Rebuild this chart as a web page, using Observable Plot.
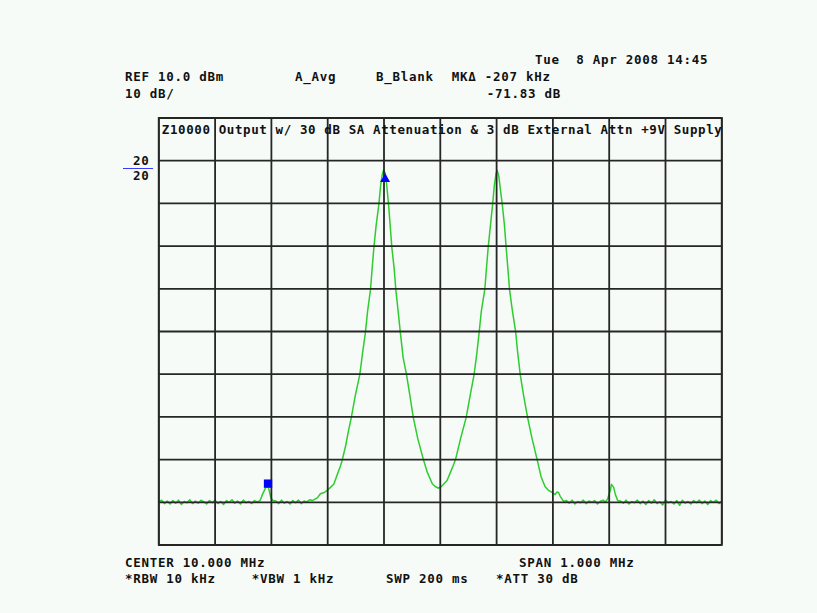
<!DOCTYPE html>
<html>
<head>
<meta charset="utf-8">
<script src="https://cdn.jsdelivr.net/npm/d3@7"></script>
<script src="https://cdn.jsdelivr.net/npm/@observablehq/plot@0.6"></script>
<style>
  html, body { margin: 0; padding: 0; background: #f6fbf8; }
  #wrap { position: relative; width: 817px; height: 613px; overflow: hidden; background: #f6fbf8; }
  #wrap svg { position: absolute; left: 0; top: 0; }
  .t { position: absolute; font-family: "DejaVu Sans Mono", monospace; font-weight: bold; font-size: 12.5px;
       line-height: 12.5px; letter-spacing: 0.72px; color: #111; white-space: pre; }
  .bl { position: absolute; background: #3a3aff; }
</style>
</head>
<body>
<div id="wrap"></div>
<script>
// ---- data ----
const xTicks = [9.5, 9.6, 9.7, 9.8, 9.9, 10.0, 10.1, 10.2, 10.3, 10.4, 10.5]; // MHz, 100 kHz/div
const yTicks = [10, 0, -10, -20, -30, -40, -50, -60, -70, -80, -90];           // dBm, 10 dB/div
const title = "Z10000 Output w/ 30 dB SA Attenuation & 3 dB External Attn +9V Supply";

const traceFreq = [
  9.500, 9.505, 9.510, 9.515, 9.520, 9.525, 9.530, 9.535, 9.540, 9.545, 9.550, 9.555, 9.560, 9.565, 9.570, 9.575,
  9.580, 9.585, 9.590, 9.595, 9.600, 9.605, 9.610, 9.615, 9.620, 9.625, 9.630, 9.635, 9.640, 9.645, 9.650, 9.655,
  9.660, 9.665, 9.670, 9.675,
  9.680, 9.684, 9.689, 9.693, 9.696, 9.699, 9.703,
  9.708, 9.713, 9.718, 9.723, 9.728, 9.733, 9.738, 9.743, 9.748, 9.753, 9.758, 9.763, 9.768, 9.773,
  9.782, 9.787, 9.794, 9.799, 9.805, 9.811, 9.817, 9.823, 9.826, 9.832, 9.837, 9.842, 9.849, 9.857, 9.862, 9.867,
  9.871, 9.876, 9.879, 9.882, 9.886, 9.891, 9.894, 9.897, 9.899, 9.902, 9.904, 9.908, 9.911, 9.914, 9.918, 9.921,
  9.925, 9.929, 9.934, 9.940, 9.946, 9.952, 9.960, 9.970, 9.977, 9.986, 9.991, 9.997, 10.002, 10.007, 10.012, 10.018,
  10.023, 10.027, 10.036, 10.046, 10.053, 10.060, 10.065, 10.069, 10.073, 10.079, 10.082, 10.085, 10.089, 10.093,
  10.096, 10.099, 10.101, 10.104, 10.107, 10.110, 10.114, 10.117, 10.120, 10.123, 10.128, 10.134, 10.137, 10.142,
  10.148, 10.155, 10.163, 10.172, 10.179, 10.186, 10.192, 10.199, 10.204, 10.207, 10.210, 10.213, 10.219,
  10.224, 10.229, 10.234, 10.239, 10.244, 10.249, 10.254, 10.259, 10.264, 10.269, 10.274, 10.279, 10.284, 10.289, 10.293,
  10.297, 10.300, 10.302, 10.304, 10.308, 10.311, 10.315,
  10.320, 10.325, 10.330, 10.335, 10.340, 10.345, 10.350, 10.355, 10.360, 10.365, 10.370, 10.375, 10.380, 10.385,
  10.390, 10.395, 10.400, 10.405, 10.410, 10.415, 10.420, 10.425, 10.430, 10.435, 10.440, 10.445, 10.450, 10.455,
  10.460, 10.465, 10.470, 10.475, 10.480, 10.485, 10.490, 10.495, 10.500
];
const traceLevel = [
  -79.9, -79.5, -80.3, -79.7, -80.4, -79.6, -80.2, -79.5, -80.5, -79.8, -80.1, -79.4, -80.3, -79.7, -80.2, -79.5,
  -79.9, -80.4, -79.6, -80.1, -79.5, -80.3, -79.8, -80.5, -79.6, -80.0, -79.4, -80.2, -79.7, -80.4, -79.5, -80.1,
  -79.8, -80.3, -79.6, -79.9,
  -79.6, -78.2, -76.8, -75.8, -77.2, -78.9, -79.6,
  -79.7, -80.3, -79.5, -80.2, -79.8, -80.4, -79.6, -80.1, -79.5, -80.3, -79.7, -79.9, -79.4, -79.6,
  -78.9, -78.0, -77.7, -77.2, -76.5, -75.7, -73.5, -71.4, -70.0, -66.7, -63.2, -60.1, -55.0, -50.1, -45.0, -40.2,
  -35.1, -30.2, -25.2, -20.4, -15.2, -10.1, -5.8, -3.2, -2.3, -2.8, -4.6, -10.1, -15.2, -20.4, -25.2, -30.2,
  -35.1, -40.2, -46.1, -50.1, -55.0, -60.1, -65.1, -70.0, -73.0, -75.7, -76.3, -76.7, -76.3, -75.6, -74.9, -73.0,
  -71.4, -70.0, -65.1, -60.1, -55.0, -50.1, -45.0, -40.2, -35.1, -30.2, -25.2, -20.4, -15.2, -10.1,
  -5.8, -3.0, -2.3, -3.7, -7.0, -10.1, -15.2, -20.4, -25.2, -30.2, -35.1, -40.2, -44.4, -50.1,
  -55.0, -60.1, -65.1, -70.0, -74.0, -76.3, -77.2, -77.7, -78.2, -77.6, -77.7, -78.6, -79.8,
  -79.6, -80.2, -79.5, -80.4, -79.8, -80.1, -79.5, -80.3, -79.7, -80.0, -79.6, -80.4, -79.8, -79.5, -79.9,
  -79.3, -78.0, -77.2, -75.8, -76.5, -78.2, -79.6,
  -79.7, -80.2, -79.5, -80.4, -79.8, -80.1, -79.5, -80.3, -79.7, -80.5, -79.6, -80.2, -79.4, -80.3,
  -79.9, -80.6, -79.5, -80.1, -79.8, -80.4, -79.6, -80.7, -79.5, -80.2, -79.8, -80.4, -79.6, -80.1,
  -79.5, -80.3, -79.7, -80.5, -79.6, -80.0, -79.5, -80.3, -79.8
];

const markerFreq = [9.902, 9.694];    // main marker, delta marker (-207 kHz)
const markerLevel = [-4.3, -75.63];   // delta -71.83 dB
const markerSymbol = ["triangle", "square"];
const markerRadius = [3.7, 4.7];

const headerTexts = ["Tue  8 Apr 2008 14:45", "REF 10.0 dBm", "A_Avg", "B_Blank", "MKΔ -207 kHz", "10 dB/", "-71.83 dB"];
const footerTexts = ["CENTER 10.000 MHz", "SPAN 1.000 MHz", "*RBW 10 kHz", "*VBW 1 kHz", "SWP 200 ms", "*ATT 30 dB"];
const refLabels = ["20", "20"];

// ---- build ----
const trace = traceFreq.map((f, i) => ({f, dBm: traceLevel[i]}));
const markers = markerFreq.map((f, i) => ({f, dBm: markerLevel[i], s: markerSymbol[i], r: markerRadius[i]}));

const gridStroke = "#262626";
const chart = Plot.plot({
  width: 817,
  height: 613,
  marginLeft: 158.3,
  marginRight: 95.7,
  marginTop: 117.5,
  marginBottom: 68.5,
  x: {domain: [9.5, 10.5], axis: null},
  y: {domain: [-90, 10], axis: null},
  r: {type: "identity"},
  style: {background: "transparent", fontFamily: "DejaVu Sans Mono", letterSpacing: "0.6px"},
  marks: [
    Plot.line(trace, {x: "f", y: "dBm", stroke: "#2fcc2f", strokeWidth: 1.5}),
    Plot.ruleX(xTicks, {stroke: gridStroke, strokeWidth: 1.8}),
    Plot.ruleY(yTicks, {stroke: gridStroke, strokeWidth: 1.8}),
    Plot.frame({stroke: gridStroke, strokeWidth: 1.8}),
    Plot.dot(markers, {x: "f", y: "dBm", symbol: "s", r: "r", fill: "#0000ff", stroke: "none"}),
    Plot.text([title], {frameAnchor: "top-left", dx: 3, dy: 7, fontSize: 12.5, fontWeight: "bold", fill: "#111"})
  ]
});

const wrap = document.getElementById("wrap");
wrap.appendChild(chart);

function addText(str, left, baseline) {
  const d = document.createElement("div");
  d.className = "t";
  d.textContent = str;
  d.style.left = left + "px";
  d.style.top = (baseline - 10.6) + "px";
  wrap.appendChild(d);
}
// header
addText(headerTexts[0], 535, 64.3);
addText(headerTexts[1], 125, 81.7);
addText(headerTexts[2], 295, 81.7);
addText(headerTexts[3], 376, 81.7);
addText(headerTexts[4], 451.7, 81.7);
addText(headerTexts[5], 125, 98.5);
addText(headerTexts[6], 486.7, 98.3);
// footer
addText(footerTexts[0], 125, 567.3);
addText(footerTexts[1], 519, 567.3);
addText(footerTexts[2], 125, 583.3);
addText(footerTexts[3], 251.7, 583.3);
addText(footerTexts[4], 386, 583.3);
addText(footerTexts[5], 496, 583.3);
// reference level labels
addText(refLabels[0], 133, 166);
addText(refLabels[1], 133, 181);
const bl = document.createElement("div");
bl.className = "bl";
bl.style.left = "123px"; bl.style.top = "167.5px"; bl.style.width = "30px"; bl.style.height = "1.8px";
wrap.appendChild(bl);
</script>
</body>
</html>
